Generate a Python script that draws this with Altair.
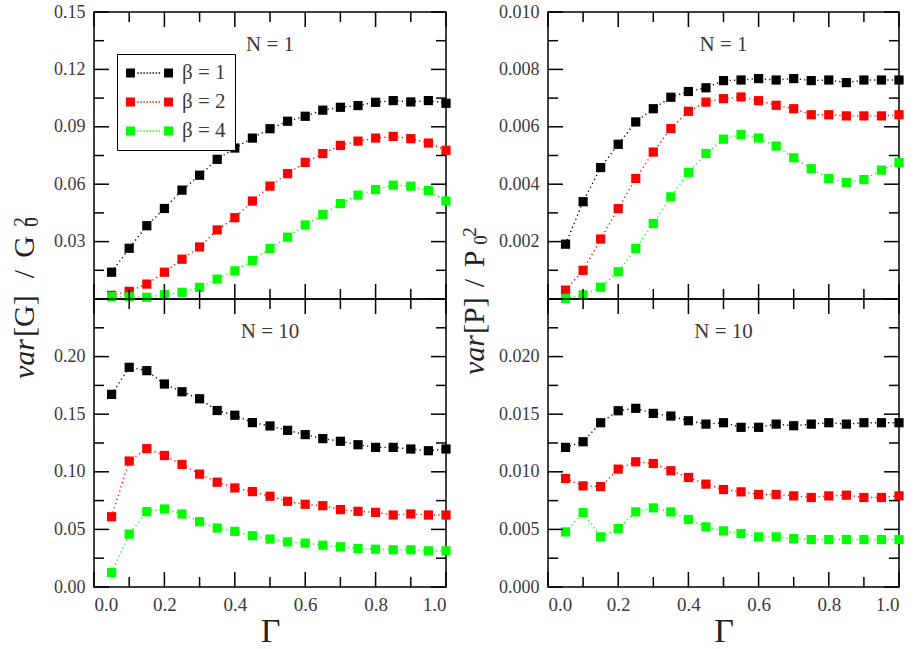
import altair as alt
import pandas as pd

# ---------------- data ----------------
gamma = [0.05, 0.10, 0.15, 0.20, 0.25, 0.30, 0.35, 0.40, 0.45, 0.50,
         0.55, 0.60, 0.65, 0.70, 0.75, 0.80, 0.85, 0.90, 0.95, 1.00]

series = ["β = 1", "β = 2", "β = 4"]
colors = ["#000000", "#ff0000", "#00ff00"]

# var[G]/G0^2, N = 1
g1_b1 = [0.0140, 0.0265, 0.0383, 0.0473, 0.0569, 0.0647, 0.0730, 0.0789, 0.0841, 0.0890,
         0.0929, 0.0955, 0.0987, 0.1002, 0.1011, 0.1028, 0.1037, 0.1030, 0.1037, 0.1023]
g1_b2 = [0.0019, 0.0040, 0.0078, 0.0140, 0.0208, 0.0272, 0.0361, 0.0425, 0.0512, 0.0590,
         0.0655, 0.0714, 0.0760, 0.0803, 0.0825, 0.0841, 0.0850, 0.0838, 0.0815, 0.0777]
g1_b4 = [0.0012, 0.0012, 0.0009, 0.0023, 0.0035, 0.0061, 0.0104, 0.0147, 0.0201, 0.0264,
         0.0323, 0.0387, 0.0442, 0.0499, 0.0543, 0.0572, 0.0595, 0.0590, 0.0567, 0.0512]

# var[G]/G0^2, N = 10
g10_b1 = [0.1672, 0.1907, 0.1878, 0.1762, 0.1695, 0.1634, 0.1532, 0.1491, 0.1427, 0.1398,
          0.1360, 0.1323, 0.1288, 0.1265, 0.1235, 0.1212, 0.1212, 0.1198, 0.1183, 0.1198]
g10_b2 = [0.0610, 0.1093, 0.1201, 0.1142, 0.1064, 0.0980, 0.0910, 0.0860, 0.0828, 0.0788,
          0.0744, 0.0718, 0.0706, 0.0672, 0.0657, 0.0648, 0.0625, 0.0634, 0.0625, 0.0625]
g10_b4 = [0.0125, 0.0459, 0.0654, 0.0677, 0.0634, 0.0567, 0.0512, 0.0483, 0.0445, 0.0416,
          0.0392, 0.0381, 0.0363, 0.0349, 0.0334, 0.0328, 0.0323, 0.0323, 0.0314, 0.0314]

# var[P]/P0^2, N = 1
p1_b1 = [0.00191, 0.00339, 0.00458, 0.00539, 0.00617, 0.00663, 0.00703, 0.00723, 0.00736, 0.00761,
         0.00763, 0.00768, 0.00763, 0.00768, 0.00761, 0.00763, 0.00754, 0.00763, 0.00763, 0.00763]
p1_b2 = [0.00031, 0.00100, 0.00209, 0.00315, 0.00420, 0.00512, 0.00594, 0.00654, 0.00686, 0.00698,
         0.00704, 0.00691, 0.00675, 0.00663, 0.00642, 0.00642, 0.00638, 0.00638, 0.00638, 0.00642]
p1_b4 = [0.00002, 0.00014, 0.00041, 0.00095, 0.00176, 0.00263, 0.00356, 0.00441, 0.00507, 0.00557,
         0.00573, 0.00561, 0.00533, 0.00492, 0.00454, 0.00420, 0.00406, 0.00416, 0.00449, 0.00475]

# var[P]/P0^2, N = 10
p10_b1 = [0.01212, 0.01261, 0.01426, 0.01530, 0.01551, 0.01507, 0.01484, 0.01443, 0.01414, 0.01426,
          0.01386, 0.01386, 0.01414, 0.01400, 0.01414, 0.01426, 0.01414, 0.01426, 0.01426, 0.01426]
p10_b2 = [0.00942, 0.00878, 0.00872, 0.01023, 0.01087, 0.01072, 0.01009, 0.00951, 0.00893, 0.00846,
          0.00826, 0.00803, 0.00803, 0.00791, 0.00777, 0.00791, 0.00797, 0.00777, 0.00777, 0.00791]
p10_b4 = [0.00478, 0.00646, 0.00435, 0.00507, 0.00652, 0.00687, 0.00652, 0.00586, 0.00522, 0.00487,
          0.00464, 0.00435, 0.00435, 0.00420, 0.00412, 0.00412, 0.00412, 0.00412, 0.00412, 0.00412]

# axis tick values
x_major = [0.0, 0.2, 0.4, 0.6, 0.8, 1.0]
x_minor = [0.1, 0.3, 0.5, 0.7, 0.9]
x_labels = [0.0, 0.2, 0.4, 0.6, 0.8, 1.0]

ytl_major = [0.0, 0.03, 0.06, 0.09, 0.12, 0.15]
ytl_minor = [0.015, 0.045, 0.075, 0.105, 0.135]
ytl_labels = [0.03, 0.06, 0.09, 0.12, 0.15]

ybl_major = [0.0, 0.05, 0.10, 0.15, 0.20, 0.25]
ybl_minor = [0.025, 0.075, 0.125, 0.175, 0.225]
ybl_labels = [0.0, 0.05, 0.10, 0.15, 0.20]

ytr_major = [0.0, 0.002, 0.004, 0.006, 0.008, 0.010]
ytr_minor = [0.001, 0.003, 0.005, 0.007, 0.009]
ytr_labels = [0.002, 0.004, 0.006, 0.008, 0.010]

ybr_major = [0.0, 0.005, 0.010, 0.015, 0.020, 0.025]
ybr_minor = [0.0025, 0.0075, 0.0125, 0.0175, 0.0225]
ybr_labels = [0.0, 0.005, 0.010, 0.015, 0.020]

# ---------------- style ----------------
SERIF = "Liberation Serif"
TXT = "#3a3a3a"
W_L, W_R = 352, 351
H_T, H_B = 287, 288
MAJ, MIN = 15, 10


def _legend_path():
    parts = ["M-1,-0.19H-0.62V0.19H-1Z", "M0.62,-0.19H1V0.19H0.62Z"]
    xx = -0.52
    while xx < 0.52:
        parts.append(f"M{xx:.3f},-0.03h0.06v0.06h-0.06Z")
        xx += 0.13
    return "".join(parts)


LEGEND_PATH = _legend_path()
color_scale = alt.Scale(domain=series, range=colors)


def make_df(vals):
    rows = []
    for s, v in zip(series, vals):
        for g, y in zip(gamma, v):
            rows.append({"gamma": g, "value": y, "beta": s})
    return pd.DataFrame(rows)


def panel(vals, ydom, ylabels, yfmt, ymaj, ymin, W, H, label, bottom, legend=False):
    xs = alt.Scale(domain=[0, 1], nice=False, zero=False)
    ys = alt.Scale(domain=ydom, nice=False, zero=False)
    df = make_df(vals)

    if bottom:
        xaxis = alt.Axis(values=x_labels, format=".1f", ticks=False, domain=False, grid=False,
                         labelFont=SERIF, labelFontSize=19, labelColor=TXT, labelPadding=8,
                         title="Γ", titleFont=SERIF, titleFontSize=34, titleFontWeight="normal",
                         titleColor="#222", titlePadding=0)
    else:
        xaxis = None
    yaxis = alt.Axis(values=ylabels, format=yfmt, ticks=False, domain=False, grid=False,
                     labelFont=SERIF, labelFontSize=18, labelColor=TXT, labelPadding=9,
                     title=None)

    if legend:
        leg = alt.Legend(title=None, orient="none", legendX=23, legendY=42,
                         symbolType=LEGEND_PATH, symbolSize=2209, symbolStrokeWidth=0,
                         symbolOpacity=1, labelFont=SERIF, labelFontSize=21, labelColor=TXT,
                         strokeColor="black", fillColor="white", padding=9,
                         clipHeight=20, rowPadding=8, labelOffset=9)
    else:
        leg = None

    x_enc = alt.X("gamma:Q", scale=xs, axis=xaxis, title="Γ" if bottom else None)
    y_enc = alt.Y("value:Q", scale=ys, axis=yaxis, title=None)
    c_enc = alt.Color("beta:N", scale=color_scale, legend=leg)

    lines = alt.Chart(df).mark_line(strokeDash=[1.2, 3.2], strokeWidth=1.4).encode(
        x=x_enc, y=y_enc, color=c_enc, detail="beta:N",
    )
    pts = alt.Chart(df).mark_square(size=85, opacity=1, filled=True).encode(
        x=x_enc, y=y_enc, color=c_enc,
    )

    layers = [lines, pts]

    # inward ticks (y on both sides, x on top and bottom)
    for vals_t, L in [(ymaj, MAJ), (ymin, MIN)]:
        td = pd.DataFrame({"value": vals_t})
        base = alt.Chart(td).mark_rule(color="black", strokeWidth=1.5)
        layers.append(base.encode(y=y_enc, x=alt.value(0), x2=alt.value(L)))
        layers.append(base.encode(y=y_enc, x=alt.value(W - L), x2=alt.value(W)))
    for vals_t, L in [(x_major, MAJ), (x_minor, MIN)]:
        td = pd.DataFrame({"gamma": vals_t})
        base = alt.Chart(td).mark_rule(color="black", strokeWidth=1.5)
        layers.append(base.encode(x=x_enc, y=alt.value(0), y2=alt.value(L)))
        layers.append(base.encode(x=x_enc, y=alt.value(H - L), y2=alt.value(H)))

    lab = alt.Chart(pd.DataFrame({"t": [label]})).mark_text(
        font=SERIF, fontSize=21, color=TXT, align="center", baseline="middle"
    ).encode(text="t:N", x=alt.value(W / 2), y=alt.value(33))
    layers.append(lab)

    return layers


def ytitle(letter, bx, y_var, y_br, y_sl, y_let, x_sup, y_sup, x_sub, y_sub):
    """Rotated title 'var[X] / X0^2', pieces anchored relative to the bottom panel's top-left."""
    def mk(txt, x, y, **kw):
        return alt.Chart(pd.DataFrame({"t": [txt]})).mark_text(
            font=SERIF, angle=270, baseline="alphabetic", color="#222", **kw
        ).encode(text="t:N", x=alt.value(x), y=alt.value(y))
    return [
        mk("var", bx, y_var, fontSize=30, fontStyle="italic", align="right"),
        mk(f"[{letter}]", bx, y_br, fontSize=30, align="left"),
        mk("/", bx, y_sl, fontSize=30, align="center"),
        mk(letter, bx, y_let, fontSize=30, align="center"),
        mk("2", x_sup, y_sup, fontSize=19, align="center"),
        mk("0", x_sub, y_sub, fontSize=19, align="center"),
    ]


tl = alt.layer(*panel([g1_b1, g1_b2, g1_b4], [0, 0.15], ytl_labels, ".2f", ytl_major, ytl_minor,
                      W_L, H_T, "N = 1", bottom=False, legend=True)).properties(width=W_L, height=H_T)
bl = alt.layer(*panel([g10_b1, g10_b2, g10_b4], [0, 0.25], ybl_labels, ".2f", ybl_major, ybl_minor,
                      W_L, H_B, "N = 10", bottom=True),
               *ytitle("G", -60, 40, 38, -25, -52, -67, -77, -56, -77)
               ).properties(width=W_L, height=H_B)

tr = alt.layer(*panel([p1_b1, p1_b2, p1_b4], [0, 0.010], ytr_labels, ".3f", ytr_major, ytr_minor,
                      W_R, H_T, "N = 1", bottom=False)).properties(width=W_R, height=H_T)
br = alt.layer(*panel([p10_b1, p10_b2, p10_b4], [0, 0.025], ybr_labels, ".3f", ybr_major, ybr_minor,
                      W_R, H_B, "N = 10", bottom=True),
               *ytitle("P", -64, 36, 35, -16, -40, -72, -67, -61, -59)
               ).properties(width=W_R, height=H_B)

left = alt.vconcat(tl, bl, spacing=0, bounds="flush").resolve_legend(color="independent")
right = alt.vconcat(tr, br, spacing=0, bounds="flush").resolve_legend(color="independent")

chart = alt.hconcat(left, right, spacing=7).resolve_legend(
    color="independent").properties(
    padding={"left": 9, "top": 2, "right": 5, "bottom": 2},
    background="white",
).configure_view(stroke="black", strokeWidth=1.5)

chart.save("out.html", embed_options={"renderer": "svg", "actions": False})
